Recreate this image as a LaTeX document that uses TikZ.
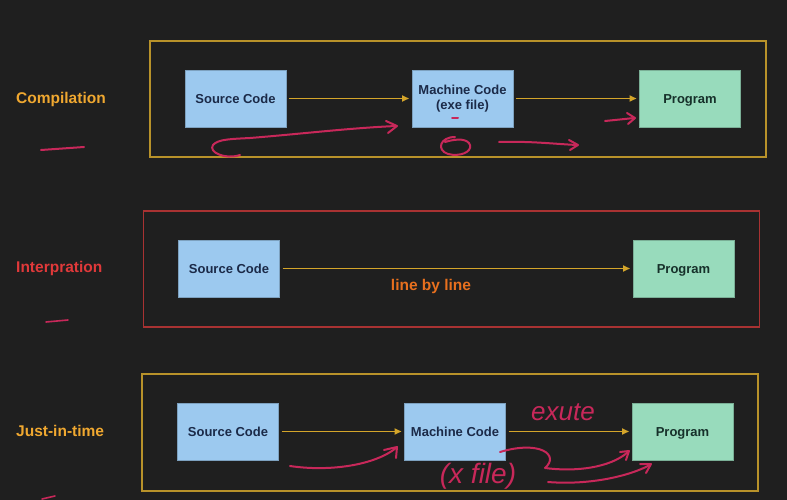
\documentclass[tikz,border=0pt]{standalone}
\usepackage{fontspec}
\setmainfont{Liberation Sans}
\usetikzlibrary{arrows.meta}
\definecolor{bg}{HTML}{1F1F1F}
\definecolor{framegold}{HTML}{B8922A}
\definecolor{framered}{HTML}{A83232}
\definecolor{arrgold}{HTML}{D4A52A}
\definecolor{lblgold}{HTML}{F0A830}
\definecolor{lblred}{HTML}{E0393A}
\definecolor{lblorange}{HTML}{E8701E}
\definecolor{boxblue}{HTML}{9CC9EF}
\definecolor{boxgreen}{HTML}{98DBBC}
\definecolor{txtblue}{HTML}{1B2A48}
\definecolor{txtgreen}{HTML}{16302A}
\definecolor{ink}{HTML}{C8285A}
\tikzset{
  frame/.style={draw=#1, line width=1.8pt, minimum width=616pt, minimum height=116pt, inner sep=0pt},
  bluebox/.style={draw=boxblue!80!black, fill=boxblue, line width=0.6pt, minimum width=101pt, minimum height=57pt, inner sep=0pt, outer sep=3pt, font=\bfseries\fontsize{13}{15}\selectfont, text=txtblue, align=center},
  greenbox/.style={draw=boxgreen!80!black, fill=boxgreen, line width=0.6pt, minimum width=101pt, minimum height=57pt, inner sep=0pt, outer sep=3pt, font=\bfseries\fontsize{13}{15}\selectfont, text=txtgreen, align=center, text height=9.5pt, text depth=0pt},
  rowlabel/.style={font=\bfseries\fontsize{15.5}{18}\selectfont, text=#1, anchor=west, inner sep=0pt},
  arr/.style={draw=arrgold, line width=1.6pt, -{Triangle[length=7pt,width=6pt]}},
  scrib/.style={draw=ink, line width=2pt, line cap=round, line join=round},
  hand/.style={text=ink, font=\itshape\fontsize{24}{26}\selectfont, inner sep=0pt}
}
\begin{document}
\begin{tikzpicture}[x=1pt,y=-1pt]
\fill[bg] (0,0) rectangle (787,500);
\useasboundingbox (0,0) rectangle (787,500);

% ---------- Row 1: Compilation ----------
\node[frame=framegold] (f1) at (458,99) {};
\node[rowlabel=lblgold] (l1) at (16,99) {Compilation};
\node[bluebox] (s1) at (235.5,98.5) {Source Code};
\node[bluebox] (m1) at (462.5,98.5) {Machine Code\\(exe file)};
\node[greenbox] (p1) at (690,98.5) {Program};
\draw[arr] (s1) -- (m1);
\draw[arr] (m1) -- (p1);

% ---------- Row 2: Interpration ----------
\node[frame=framered] (f2) at (451.5,269) {};
\node[rowlabel=lblred] (l2) at (16,268) {Interpration};
\node[bluebox] (s2) at (229,268.5) {Source Code};
\node[greenbox] (p2) at (683.5,268.5) {Program};
\draw[arr] (s2) -- (p2);
\node[font=\bfseries\fontsize{15.5}{18}\selectfont, text=lblorange, inner sep=0pt] (lbl) at (431,286) {line by line};

% ---------- Row 3: Just-in-time ----------
\node[frame=framegold, minimum height=117pt] (f3) at (450,432.5) {};
\node[rowlabel=lblgold] (l3) at (16,431) {Just-in-time};
\node[bluebox] (s3) at (228,431.5) {Source Code};
\node[bluebox] (m3) at (455,431.5) {Machine Code};
\node[greenbox] (p3) at (682.5,431.5) {Program};
\draw[arr] (s3) -- (m3);
\draw[arr] (m3) -- (p3);

% ---------- handwritten annotations ----------
% row 1
\draw[scrib] (41,150) -- (84,147);
\draw[scrib] (240,155) .. controls (225,160) and (208,152) .. (213,145)
  .. controls (218,139) and (232,139) .. (250,138) .. controls (300,134) and (350,128) .. (396,126);
\draw[scrib] (386,121) -- (397,126) -- (388,133);
\draw[scrib] (452,118) -- (458,118);
\draw[scrib] (455,137) .. controls (440,137) and (436,150) .. (448,154)
  .. controls (460,157) and (472,152) .. (470,145) .. controls (468,139) and (458,138) .. (445,142);
\draw[scrib] (499,142) .. controls (530,141) and (555,144) .. (577,145);
\draw[scrib] (569,140) -- (578,145) -- (570,150);
\draw[scrib] (605,121) .. controls (615,120) and (625,119) .. (634,118);
\draw[scrib] (627,113) -- (635,118) -- (628,124);
% row 2
\draw[scrib, line width=1.6pt] (46,322) -- (68,320);
% row 3
\draw[scrib] (290,466) .. controls (330,472) and (375,465) .. (396,448);
\draw[scrib] (384,450) -- (397,447) -- (396,458);
\node[hand, font=\itshape\fontsize{26}{28}\selectfont] (ex) at (563,412) {exute};
\node[hand, font=\itshape\fontsize{28}{30}\selectfont] (xf) at (478,476) {(x file)};
\draw[scrib] (500,452) .. controls (540,440) and (560,455) .. (545,468)
  .. controls (575,472) and (610,468) .. (628,452);
\draw[scrib] (620,452) -- (629,451) -- (626,460);
\draw[scrib] (548,482) .. controls (585,485) and (625,478) .. (650,465);
\draw[scrib] (640,464) -- (651,464) -- (646,473);
\draw[scrib, line width=1.6pt] (42,499) -- (55,496);
\end{tikzpicture}
\end{document}
